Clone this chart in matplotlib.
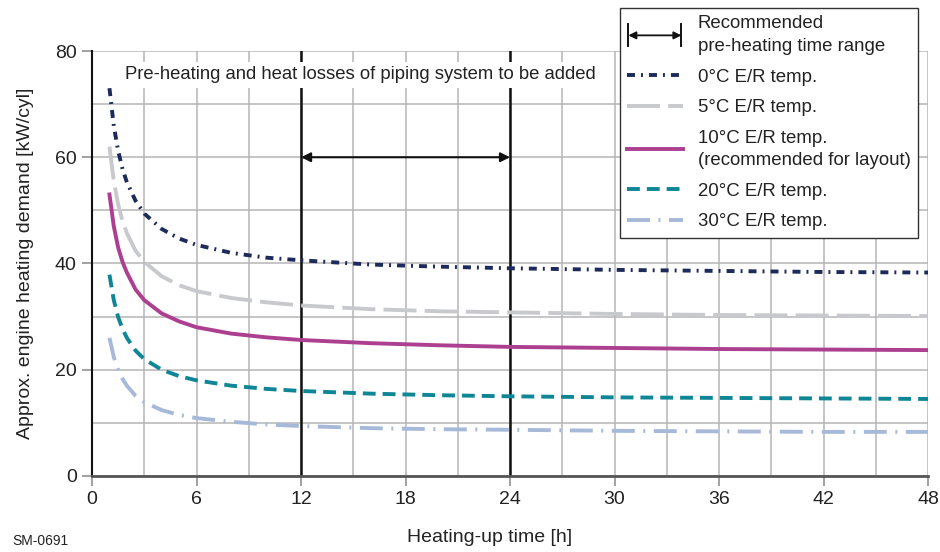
import matplotlib
matplotlib.use("Agg")
import matplotlib.pyplot as plt
from matplotlib.lines import Line2D
from matplotlib.patches import FancyArrowPatch
from matplotlib.legend_handler import HandlerBase

plt.rcParams["font.family"] = ["Liberation Sans", "DejaVu Sans"]

# heating-up time [h]
hours = [1, 1.25, 1.5, 1.75, 2, 2.5, 3, 4, 5, 6, 8, 10, 12, 16, 20, 24, 30, 36, 42, 48]

# approx. engine heating demand [kW/cyl]
temp_0 = [73.0, 65.9, 61.2, 57.8, 55.3, 51.8, 49.4, 46.5, 44.7, 43.5, 42.0, 41.1, 40.6,
          39.8, 39.4, 39.1, 38.8, 38.6, 38.4, 38.3]
temp_5 = [62.0, 55.5, 51.1, 48.0, 45.7, 42.4, 40.3, 37.6, 35.9, 34.8, 33.5, 32.7, 32.1,
          31.4, 31.0, 30.8, 30.5, 30.3, 30.2, 30.1]
temp_10 = [53.0, 47.0, 43.0, 40.3, 38.3, 35.1, 33.1, 30.6, 29.1, 28.0, 26.8, 26.1, 25.6,
           25.0, 24.6, 24.3, 24.1, 23.9, 23.8, 23.7]
temp_20 = [37.9, 33.1, 29.9, 27.7, 26.0, 23.6, 22.0, 20.0, 18.8, 18.0, 17.0, 16.4, 16.0,
           15.5, 15.2, 15.0, 14.8, 14.7, 14.6, 14.5]
temp_30 = [26.0, 22.4, 20.0, 18.3, 17.0, 15.1, 13.9, 12.4, 11.5, 10.9, 10.2, 9.7, 9.4,
           9.0, 8.8, 8.7, 8.5, 8.4, 8.3, 8.3]

range_start = 12
range_end = 24
range_level = 60

labels = ["0°C E/R temp.", "5°C E/R temp.",
          "10°C E/R temp.\n(recommended for layout)",
          "20°C E/R temp.", "30°C E/R temp."]
range_label = "Recommended\npre-heating time range"
note = "Pre-heating and heat losses of piping system to be added"


class RangeMarker:
    pass


class RangeHandler(HandlerBase):
    def create_artists(self, legend, orig_handle, xdescent, ydescent,
                       width, height, fontsize, trans):
        x0 = -xdescent + 1
        x1 = -xdescent + width - 1
        y = (height - ydescent) / 2
        h = height * 0.85
        bar1 = Line2D([x0, x0], [y - h, y + h], color="#111111", lw=1.4, transform=trans)
        bar2 = Line2D([x1, x1], [y - h, y + h], color="#111111", lw=1.4, transform=trans)
        arr = FancyArrowPatch((x0, y), (x1, y), arrowstyle="<|-|>", mutation_scale=11,
                              color="#111111", lw=1.3, shrinkA=0, shrinkB=0, transform=trans)
        return [bar1, bar2, arr]


fig = plt.figure(figsize=(9.4, 5.52), dpi=100)
ax = fig.add_axes([0.0979, 0.1377, 0.8894, 0.7699])

ax.set_xlim(0, 48)
ax.set_ylim(0, 80)
ax.set_xticks(range(0, 49, 6))
ax.set_xticks(range(0, 49, 3), minor=True)
ax.set_yticks(range(0, 81, 20))
ax.set_yticks(range(0, 81, 10), minor=True)
ax.grid(True, which="both", color="#b5b5b5", lw=1.1, zorder=0)
ax.tick_params(which="minor", length=0)
ax.tick_params(which="major", length=7, width=1.1, color="#888888",
               labelsize=14, labelcolor="#222222", pad=4)
for s in ["top", "right"]:
    ax.spines[s].set_visible(False)
ax.spines["left"].set_color("#111111")
ax.spines["left"].set_linewidth(1.5)
ax.spines["bottom"].set_color("#555555")
ax.spines["bottom"].set_linewidth(2)
ax.set_axisbelow(True)

lw = 2.8
l0, = ax.plot(hours, temp_0, color="#1c2b59", lw=lw, dashes=(2.05, 1.55, 0.5, 1.55), zorder=3)
l5, = ax.plot(hours, temp_5, color="#c8c9cc", lw=lw, dashes=(8.5, 2.1), zorder=3)
l10, = ax.plot(hours, temp_10, color="#ad3f90", lw=lw, zorder=4)
l20, = ax.plot(hours, temp_20, color="#0f8696", lw=lw, dashes=(3.3, 1.8), zorder=3)
l30, = ax.plot(hours, temp_30, color="#a7b9d9", lw=lw, dashes=(5.9, 2.2, 0.5, 2.2), zorder=3)

ax.axvline(range_start, color="#111111", lw=1.8, zorder=2)
ax.axvline(range_end, color="#111111", lw=1.8, zorder=2)
ax.annotate("", xy=(range_start, range_level), xytext=(range_end, range_level),
            arrowprops=dict(arrowstyle="<|-|>", color="#111111", lw=1.5,
                            mutation_scale=14, shrinkA=0, shrinkB=0), zorder=5)

ax.text(15.4, 75.5, note, ha="center", va="center", fontsize=13.3, color="#222222",
        bbox=dict(facecolor="white", edgecolor="none", pad=3), zorder=6)

ax.set_xlabel("Heating-up time [h]", fontsize=14, color="#222222")
ax.xaxis.set_label_coords(0.476, -0.125)
ax.set_ylabel("Approx. engine heating demand [kW/cyl]", fontsize=14, color="#222222")
ax.yaxis.set_label_coords(-0.07, 0.5)

fig.text(0.013, 0.013, "SM-0691", fontsize=10, color="#222222")

marker = RangeMarker()
handles = [marker, l0, l5, l10, l20, l30]
leg = fig.legend(handles, [range_label] + labels, handler_map={RangeMarker: RangeHandler()},
                 loc="upper right", bbox_to_anchor=(918 / 940, 1 - 8 / 552),
                 fontsize=13.4, frameon=True, fancybox=False, edgecolor="#333333",
                 framealpha=1, handlelength=3.0, handletextpad=0.8, borderpad=0.4,
                 labelspacing=0.72, borderaxespad=0)
leg.get_frame().set_linewidth(1.0)
for t in leg.get_texts():
    t.set_color("#222222")
    t.set_linespacing(1.45)

fig.savefig("out.png", dpi=100)
